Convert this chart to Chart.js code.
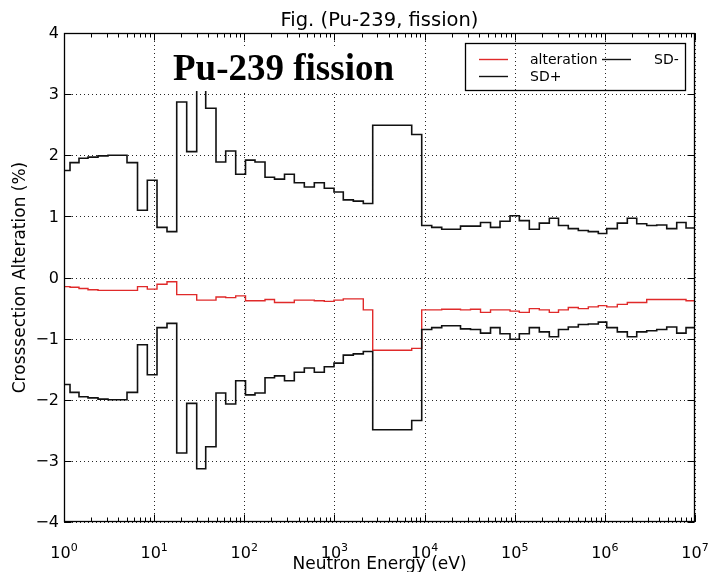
<!DOCTYPE html>
<html><head><meta charset="utf-8">
<script src="https://cdn.jsdelivr.net/npm/chart.js@4/dist/chart.umd.min.js"></script>
<style>html,body{margin:0;padding:0;background:#fff}#wrap{width:709px;height:572px;position:relative}</style>
</head><body><div id="wrap"><canvas id="c" width="709" height="572"></canvas></div>
<script>
// Energy group boundaries (eV)
const binEdges = [1, 1.166, 1.467, 1.846, 2.384, 3.077, 3.972, 5.0, 6.54, 8.40,
  10.76, 13.89, 17.80, 22.97, 29.66, 37.33, 48.56, 62.2, 80.3, 103.2,
  131.5, 169.8, 216.4, 279.4, 358.8, 463.4, 598.2, 772.1, 989, 1254,
  1620, 2091, 2659, 7200, 9296, 12000, 15496, 25044, 32335, 41750,
  53900, 68700, 88700, 112500, 145200, 187500, 242000, 306000, 393000, 507700,
  655400, 846200, 1049000, 1375000, 1775000, 2257000, 2914000, 3762000, 4858000, 6270000,
  7953000, 1e7];
// values per group (%)
const alteration = [-0.15,-0.16,-0.18,-0.20,-0.21,-0.21,-0.21,-0.21,-0.15,-0.19,
  -0.11,-0.07,-0.28,-0.28,-0.37,-0.37,-0.32,-0.33,-0.30,-0.38,
  -0.38,-0.36,-0.41,-0.41,-0.37,-0.37,-0.38,-0.39,-0.37,-0.35,
  -0.35,-0.53,-1.19,-1.16,-0.53,-0.53,-0.52,-0.53,-0.52,-0.57,
  -0.53,-0.53,-0.55,-0.57,-0.51,-0.53,-0.57,-0.53,-0.49,-0.51,
  -0.48,-0.46,-0.48,-0.44,-0.41,-0.41,-0.36,-0.36,-0.36,-0.36,
  -0.38];
const sdPlus = [1.75,1.88,1.95,1.97,1.99,2.00,2.00,1.88,1.10,1.59,
  0.82,0.75,2.87,2.06,3.13,2.77,1.89,2.07,1.69,1.92,
  1.89,1.64,1.61,1.69,1.55,1.48,1.55,1.46,1.40,1.27,
  1.25,1.21,2.49,2.34,0.85,0.82,0.79,0.84,0.84,0.90,
  0.82,0.92,1.01,0.93,0.79,0.89,0.97,0.85,0.80,0.77,
  0.75,0.72,0.80,0.89,0.97,0.88,0.85,0.86,0.80,0.90,
  0.81];
const sdMinus = [-1.75,-1.88,-1.95,-1.97,-1.99,-2.00,-2.00,-1.88,-1.10,-1.59,
  -0.82,-0.75,-2.87,-2.06,-3.13,-2.77,-1.89,-2.07,-1.69,-1.92,
  -1.89,-1.64,-1.61,-1.69,-1.55,-1.48,-1.55,-1.46,-1.40,-1.27,
  -1.25,-1.21,-2.49,-2.34,-0.85,-0.82,-0.79,-0.84,-0.85,-0.91,
  -0.82,-0.92,-1.01,-0.92,-0.82,-0.89,-0.97,-0.85,-0.81,-0.77,
  -0.76,-0.73,-0.82,-0.89,-0.97,-0.89,-0.87,-0.85,-0.81,-0.91,
  -0.82];
const yTicks = [4, 3, 2, 1, 0, -1, -2, -3, -4];
const xDecades = [0, 1, 2, 3, 4, 5, 6, 7];
const chartTitle = 'Fig. (Pu-239, fission)';
const annotationText = 'Pu-239 fission';
const xTitle = 'Neutron Energy (eV)';
const yTitle = 'Crosssection Alteration (%)';
const seriesNames = ['alteration', 'SD+', 'SD-'];
const seriesColors = ['#e02a2a', '#111111', '#111111'];

function steps(vals) {
  // group i starts at binEdges[i]; the last point closes the final group
  const pts = vals.map((v, i) => ({x: binEdges[i], y: v}));
  pts.push({x: binEdges[binEdges.length - 1], y: vals[vals.length - 1]});
  return pts;
}

const FONT = '"DejaVu Sans", sans-serif';

const decor = {
  id: 'decor',
  beforeDatasetsDraw(chart) {
    const {ctx, chartArea: a, scales: {x, y}} = chart;
    ctx.save();
    ctx.strokeStyle = 'rgba(0,0,0,0.85)';
    ctx.lineWidth = 1;
    ctx.setLineDash([1, 3]);
    xDecades.forEach(d => {
      const px = Math.round(x.getPixelForValue(Math.pow(10, d))) + 0.5;
      ctx.beginPath(); ctx.moveTo(px, a.top); ctx.lineTo(px, a.bottom); ctx.stroke();
    });
    yTicks.forEach(t => {
      const py = Math.round(y.getPixelForValue(t)) + 0.5;
      ctx.beginPath(); ctx.moveTo(a.left, py); ctx.lineTo(a.right, py); ctx.stroke();
    });
    ctx.restore();
  },
  afterDatasetsDraw(chart) {
    const {ctx, chartArea: a, scales: {x, y}} = chart;
    ctx.save();
    // in-plot annotation with white box
    ctx.fillStyle = '#fff';
    ctx.fillRect(168, 47, 232, 44);
    ctx.fillStyle = '#000';
    ctx.font = 'bold 37px "Liberation Serif", "Times New Roman", serif';
    ctx.textAlign = 'left'; ctx.textBaseline = 'alphabetic';
    ctx.fillText(annotationText, 173, 80);

    // frame
    const L = Math.round(a.left) + 0.5, R = Math.round(a.right) - 0.5;
    const T = Math.round(a.top) + 0.5, B = Math.round(a.bottom) - 0.5;
    ctx.strokeStyle = '#000'; ctx.lineWidth = 1.3;
    ctx.strokeRect(L, T, R - L, B - T);

    // ticks
    ctx.lineWidth = 1;
    xDecades.forEach(d => {
      const px = Math.round(x.getPixelForValue(Math.pow(10, d))) + 0.5;
      ctx.beginPath();
      ctx.moveTo(px, B); ctx.lineTo(px, B - 7);
      ctx.moveTo(px, T); ctx.lineTo(px, T + 7);
      ctx.stroke();
      if (d < 7) {
        for (let m = 2; m <= 9; m++) {
          const mx = Math.round(x.getPixelForValue(m * Math.pow(10, d))) + 0.5;
          ctx.beginPath();
          ctx.moveTo(mx, B); ctx.lineTo(mx, B - 4);
          ctx.moveTo(mx, T); ctx.lineTo(mx, T + 4);
          ctx.stroke();
        }
      }
    });
    yTicks.forEach(t => {
      const py = Math.round(y.getPixelForValue(t)) + 0.5;
      ctx.beginPath();
      ctx.moveTo(L, py); ctx.lineTo(L + 7, py);
      ctx.moveTo(R, py); ctx.lineTo(R - 7, py);
      ctx.stroke();
    });

    // y tick labels
    ctx.fillStyle = '#000';
    ctx.font = '16px ' + FONT;
    ctx.textAlign = 'right'; ctx.textBaseline = 'middle';
    yTicks.forEach(t => {
      const py = y.getPixelForValue(t);
      ctx.fillText(t < 0 ? '\u2212' + Math.abs(t) : String(t), 59, py + 1);
    });
    // x tick labels 10^d
    xDecades.forEach(d => {
      const px = x.getPixelForValue(Math.pow(10, d));
      ctx.font = '16px ' + FONT;
      const w1 = ctx.measureText('10').width;
      ctx.font = '11px ' + FONT;
      const w2 = ctx.measureText(String(d)).width;
      const x0 = px - (w1 + w2) / 2;
      ctx.textAlign = 'left'; ctx.textBaseline = 'alphabetic';
      ctx.font = '16px ' + FONT;
      ctx.fillText('10', x0, 558);
      ctx.font = '11px ' + FONT;
      ctx.fillText(String(d), x0 + w1, 551);
    });

    // axis titles
    ctx.font = '17px ' + FONT;
    ctx.textAlign = 'center'; ctx.textBaseline = 'alphabetic';
    ctx.fillText(xTitle, (a.left + a.right) / 2, 569);
    ctx.save();
    ctx.translate(25, (a.top + a.bottom) / 2);
    ctx.rotate(-Math.PI / 2);
    ctx.fillText(yTitle, 0, 0);
    ctx.restore();

    // chart title
    ctx.font = '19.5px ' + FONT;
    ctx.fillText(chartTitle, (a.left + a.right) / 2, 26);

    // legend
    ctx.lineWidth = 1.3; ctx.strokeStyle = '#000';
    ctx.strokeRect(465.5, 43.5, 220, 47);
    const rows = [
      {name: seriesNames[0], color: seriesColors[0], lx: 479, tx: 530, y: 59},
      {name: seriesNames[1], color: seriesColors[1], lx: 479, tx: 530, y: 76},
      {name: seriesNames[2], color: seriesColors[2], lx: 602, tx: 654, y: 59}
    ];
    ctx.font = '14px ' + FONT;
    ctx.textAlign = 'left'; ctx.textBaseline = 'middle';
    rows.forEach(r => {
      ctx.strokeStyle = r.color; ctx.lineWidth = 1.4;
      ctx.beginPath(); ctx.moveTo(r.lx, r.y + 0.5); ctx.lineTo(r.lx + 29, r.y + 0.5); ctx.stroke();
      ctx.fillStyle = '#000';
      ctx.fillText(r.name, r.tx, r.y + 1);
    });
    ctx.restore();
  }
};

new Chart(document.getElementById('c'), {
  type: 'line',
  data: {
    datasets: [
      {label: seriesNames[0], data: steps(alteration), borderColor: seriesColors[0], borderWidth: 1.4, stepped: 'before', pointRadius: 0, fill: false, order: 3},
      {label: seriesNames[1], data: steps(sdPlus), borderColor: seriesColors[1], borderWidth: 1.6, stepped: 'before', pointRadius: 0, fill: false, order: 1},
      {label: seriesNames[2], data: steps(sdMinus), borderColor: seriesColors[2], borderWidth: 1.6, stepped: 'before', pointRadius: 0, fill: false, order: 2}
    ]
  },
  options: {
    responsive: false, animation: false, devicePixelRatio: 1,
    layout: {padding: {left: 0, right: 14, top: 33, bottom: 0}},
    plugins: {legend: {display: false}, title: {display: false}, tooltip: {enabled: false}},
    scales: {
      x: {type: 'logarithmic', min: 1, max: 1e7,
          ticks: {display: false}, grid: {display: false}, border: {display: false},
          afterFit: s => { s.height = 50; }},
      y: {type: 'linear', min: -4, max: 4,
          ticks: {display: false, stepSize: 1}, grid: {display: false}, border: {display: false},
          afterFit: s => { s.width = 64; }}
    }
  },
  plugins: [decor]
});
</script>
</body></html>
